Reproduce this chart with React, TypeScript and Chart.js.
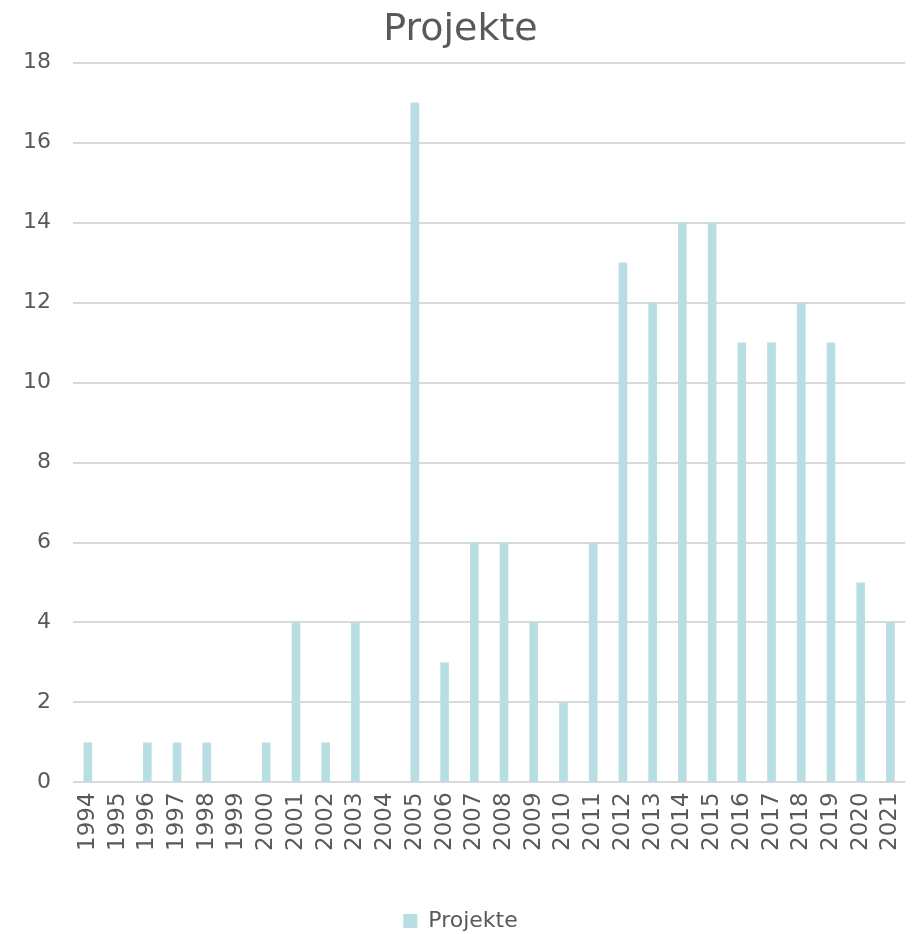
import React, { useEffect, useRef } from "react";
import { Chart, registerables } from "chart.js";

Chart.register(...registerables);

const years = [
  "1994", "1995", "1996", "1997", "1998", "1999", "2000", "2001", "2002", "2003",
  "2004", "2005", "2006", "2007", "2008", "2009", "2010", "2011", "2012", "2013",
  "2014", "2015", "2016", "2017", "2018", "2019", "2020", "2021",
];
const projekte = [
  1, 0, 1, 1, 1, 0, 1, 4, 1, 4,
  0, 17, 3, 6, 6, 4, 2, 6, 13, 12,
  14, 14, 11, 11, 12, 11, 5, 4,
];
const seriesName = "Projekte";
const chartTitle = "Projekte";

const FONT = "'DejaVu Sans', Verdana, sans-serif";
const TEXT = "#595959";
const BAR = "rgb(183,222,226)";

export default function App() {
  const ref = useRef<HTMLCanvasElement | null>(null);
  useEffect(() => {
    if (!ref.current) return;
    const chart = new Chart(ref.current, {
      type: "bar",
      data: {
        labels: years,
        datasets: [
          {
            label: seriesName,
            data: projekte,
            backgroundColor: BAR,
            borderWidth: 0,
            categoryPercentage: 1,
            barPercentage: 0.29,
          },
        ],
      },
      options: {
        animation: false,
        responsive: false,
        maintainAspectRatio: false,
        devicePixelRatio: 1,
        layout: { padding: { left: 1, right: 0, top: 7, bottom: -8 } },
        plugins: {
          title: {
            display: true,
            text: chartTitle,
            color: TEXT,
            font: { family: FONT, size: 38, weight: "normal" },
            padding: { top: 0, bottom: 10 },
          },
          legend: {
            display: true,
            position: "bottom",
            labels: {
              color: TEXT,
              font: { family: FONT, size: 22 },
              boxWidth: 14,
              boxHeight: 14,
              padding: 0,
            },
          },
          tooltip: { enabled: false },
        },
        scales: {
          x: {
            grid: { display: false, drawTicks: false },
            border: { display: false },
            title: {
              display: true,
              text: " ",
              font: { family: FONT, size: 10 },
              padding: { top: 0, bottom: 37 },
            },
            ticks: {
              color: TEXT,
              font: { family: FONT, size: 23, lineHeight: 0.85 },
              minRotation: 90,
              maxRotation: 90,
              autoSkip: false,
              padding: 10,
            },
          },
          y: {
            min: 0,
            max: 18,
            border: { display: false },
            grid: { color: "#d9d9d9", lineWidth: 2, drawTicks: false },
            ticks: {
              stepSize: 2,
              color: TEXT,
              font: { family: FONT, size: 22 },
              padding: 22,
            },
          },
        },
      },
    });
    return () => chart.destroy();
  }, []);
  return (
    <div style={{ position: "fixed", left: 0, top: 0, width: 920, height: 934, background: "#fff" }}>
      <canvas ref={ref} width={920} height={934} style={{ display: "block" }} />
    </div>
  );
}
